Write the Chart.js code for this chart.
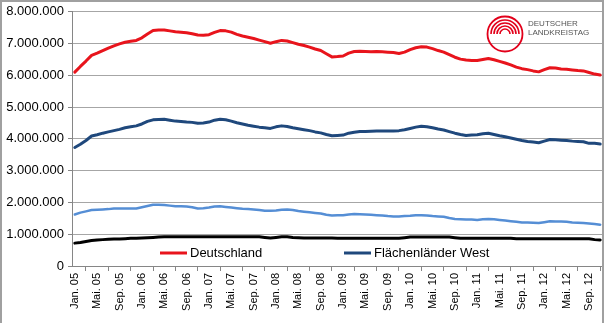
<!DOCTYPE html>
<html>
<head>
<meta charset="utf-8">
<script src="https://cdn.jsdelivr.net/npm/chart.js@4.4.1/dist/chart.umd.min.js"></script>
<style>
  html, body { margin: 0; padding: 0; background: #fff; }
  canvas { display: block; }
</style>
</head>
<body>
<canvas id="chart" width="605" height="323"></canvas>
<script>
// Kategorien
const monate = ["Jan.", "Feb.", "Mär.", "Apr.", "Mai.", "Jun.", "Jul.", "Aug.", "Sep.", "Okt.", "Nov.", "Dez."];
const jahre = ["05", "06", "07", "08", "09", "10", "11", "12"];
const anzahlMonate = 95; // Jan. 05 bis Nov. 12

// Werte in Tausend
const deutschland = [
  6100, 6280, 6450, 6630, 6700, 6780, 6860, 6930, 6990, 7040, 7070, 7100,
  7180, 7300, 7410, 7430, 7430, 7400, 7370, 7360, 7340, 7310, 7270, 7260,
  7280, 7350, 7410, 7400, 7360, 7290, 7240, 7200, 7160, 7110, 7060, 7010,
  7060, 7100, 7080, 7030, 6980, 6940, 6890, 6830, 6780, 6680, 6580, 6590,
  6610, 6700, 6750, 6760, 6750, 6740, 6750, 6740, 6730, 6720, 6690, 6730,
  6810, 6870, 6900, 6890, 6840, 6780, 6730, 6650, 6570, 6510, 6480, 6470,
  6470, 6500, 6530, 6490, 6440, 6390, 6330, 6260, 6210, 6180, 6140, 6110,
  6180, 6240, 6230, 6200, 6190, 6170, 6150, 6140, 6090, 6040, 6010
];
const flaechenWest = [
  3730, 3830, 3950, 4090, 4130, 4180, 4220, 4260, 4300, 4350, 4380, 4410,
  4470, 4550, 4600, 4610, 4620, 4590, 4560, 4550, 4530, 4520, 4490, 4500,
  4530, 4590, 4620, 4600, 4560, 4510, 4470, 4430, 4400, 4370, 4350, 4330,
  4380, 4410, 4390, 4350, 4320, 4290, 4260, 4220, 4190, 4140, 4100, 4110,
  4120, 4180, 4210, 4230, 4230, 4240, 4250, 4250, 4250, 4250, 4260, 4290,
  4330, 4370, 4400, 4380, 4350, 4310, 4280, 4230, 4180, 4140, 4110, 4120,
  4130, 4160, 4180, 4140, 4100, 4070, 4030, 3990, 3950, 3920, 3900, 3880,
  3930, 3980, 3970, 3960, 3950, 3930, 3920, 3910, 3860, 3860, 3840
];
const flaechenOst = [
  1620, 1680, 1720, 1760, 1770, 1780, 1790, 1810, 1810, 1810, 1810, 1810,
  1850, 1890, 1930, 1930, 1920, 1900, 1880, 1880, 1870, 1850, 1810, 1820,
  1840, 1870, 1880, 1860, 1840, 1820, 1800, 1790, 1780, 1760, 1740, 1740,
  1750, 1770, 1780, 1760, 1730, 1710, 1690, 1670, 1650, 1610, 1590, 1600,
  1600, 1620, 1640, 1630, 1620, 1610, 1600, 1590, 1570, 1560, 1560, 1570,
  1580, 1600, 1600, 1590, 1570, 1560, 1550, 1510, 1480, 1470, 1460, 1460,
  1450, 1470, 1480, 1470, 1450, 1430, 1410, 1390, 1370, 1370, 1360, 1350,
  1380, 1410, 1400, 1400, 1390, 1370, 1360, 1350, 1340, 1320, 1300
];
const stadtstaaten = [
  720, 740, 770, 800, 820, 830, 840, 850, 850, 860, 870, 870,
  880, 890, 900, 910, 920, 920, 920, 920, 920, 920, 920, 920,
  920, 920, 920, 920, 920, 920, 920, 920, 920, 920, 900, 880,
  900, 920, 920, 900, 890, 880, 880, 880, 880, 880, 880, 870,
  870, 870, 870, 870, 870, 870, 870, 870, 870, 870, 870, 890,
  910, 910, 910, 910, 910, 910, 910, 910, 890, 870, 870, 870,
  870, 870, 870, 870, 870, 870, 870, 860, 860, 860, 860, 860,
  860, 860, 860, 860, 860, 860, 860, 860, 860, 830, 820
];

const labels = [];
jahre.forEach(j => monate.forEach(m => labels.push(m + " " + j)));
labels.length = anzahlMonate;

const tausend = arr => arr.map(v => v * 1000);
const schrift = "'Liberation Sans', Arial, sans-serif";

function formatZahl(v) {
  return String(v).replace(/\B(?=(\d{3})+(?!\d))/g, ".");
}

// Hintergrund und Rahmen
const rahmen = {
  id: "rahmen",
  beforeDraw(chart) {
    const ctx = chart.ctx;
    ctx.save();
    ctx.fillStyle = "#fff";
    ctx.fillRect(0, 0, chart.width, chart.height);
    ctx.restore();
  },
  afterDraw(chart) {
    const ctx = chart.ctx;
    ctx.save();
    ctx.strokeStyle = "#a0a0a0";
    ctx.lineWidth = 2;
    ctx.beginPath();
    ctx.moveTo(1, chart.height);
    ctx.lineTo(1, 1);
    ctx.lineTo(603, 1);
    ctx.lineTo(603, chart.height);
    ctx.stroke();
    ctx.restore();
  }
};

// Legende im Diagramm (nur die ersten beiden Reihen)
const legende = {
  id: "legende",
  afterDatasetsDraw(chart) {
    const ctx = chart.ctx;
    const posX = [160, 344];
    const y = 253;
    ctx.save();
    ctx.font = "13px " + schrift;
    ctx.textBaseline = "middle";
    posX.forEach((x, i) => {
      const ds = chart.data.datasets[i];
      ctx.strokeStyle = ds.borderColor;
      ctx.lineWidth = 3;
      ctx.beginPath();
      ctx.moveTo(x, y);
      ctx.lineTo(x + 27, y);
      ctx.stroke();
      ctx.fillStyle = "#000";
      ctx.fillText(ds.label, x + 30, y);
    });
    ctx.restore();
  }
};

// Logo
const logo = {
  id: "logo",
  afterDraw(chart) {
    const ctx = chart.ctx;
    const cx = 505, cy = 34;
    ctx.save();
    ctx.strokeStyle = "#e2001a";
    ctx.lineWidth = 1.8;
    ctx.beginPath();
    ctx.arc(cx, cy, 17.5, 0, Math.PI * 2);
    ctx.stroke();
    ctx.lineWidth = 1.6;
    [14, 11, 8, 5].forEach(r => {
      ctx.beginPath();
      ctx.arc(cx, cy, r, Math.PI, 0);
      ctx.stroke();
    });
    ctx.fillStyle = "#555";
    ctx.font = "8px " + schrift;
    ctx.textBaseline = "alphabetic";
    ctx.fillText("DEUTSCHER", 528, 26);
    ctx.fillText("LANDKREISTAG", 528, 35);
    ctx.restore();
  }
};

function linie(label, data, farbe, breite) {
  return {
    label: label,
    data: tausend(data),
    borderColor: farbe,
    backgroundColor: farbe,
    borderWidth: breite,
    pointRadius: 0,
    tension: 0,
    borderJoinStyle: "round",
    borderCapStyle: "round",
    fill: false
  };
}

new Chart(document.getElementById("chart"), {
  type: "line",
  data: {
    labels: labels,
    datasets: [
      linie("Deutschland", deutschland, "#e8141c", 3),
      linie("Flächenländer West", flaechenWest, "#1f487c", 3),
      linie("Flächenländer Ost", flaechenOst, "#558ed5", 2.5),
      linie("Stadtstaaten", stadtstaaten, "#000000", 3)
    ]
  },
  options: {
    responsive: false,
    animation: false,
    layout: { padding: { top: 4, right: 2, left: 0, bottom: 0 } },
    plugins: {
      legend: { display: false },
      tooltip: { enabled: false }
    },
    scales: {
      x: {
        type: "category",
        offset: true,
        grid: {
          offset: true,
          drawOnChartArea: false,
          drawTicks: true,
          tickLength: 5,
          color: "#868686"
        },
        border: { color: "#868686" },
        ticks: {
          autoSkip: false,
          maxRotation: 90,
          minRotation: 90,
          padding: 2,
          color: "#000",
          font: { family: schrift, size: 11 },
          callback: function (v, i) {
            return i % 4 === 0 ? this.getLabelForValue(v) : null;
          }
        },
        afterFit(s) { s.height = 57; }
      },
      y: {
        min: 0,
        max: 8000000,
        grid: {
          color: "#a6a6a6",
          tickColor: "#868686",
          tickLength: 4
        },
        border: { color: "#868686" },
        ticks: {
          stepSize: 1000000,
          padding: 4,
          color: "#000",
          font: { family: schrift, size: 13 },
          callback: v => formatZahl(v)
        },
        afterFit(s) { s.width = 72; }
      }
    }
  },
  plugins: [rahmen, legende, logo]
});
</script>
</body>
</html>
